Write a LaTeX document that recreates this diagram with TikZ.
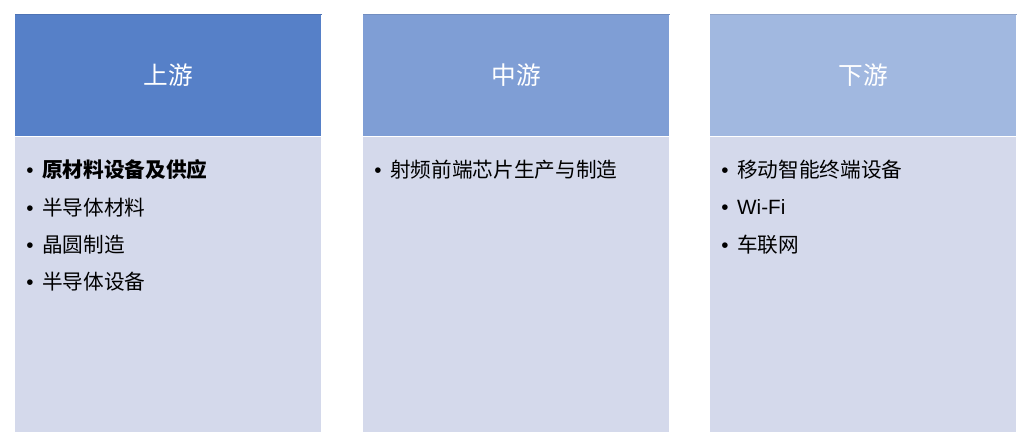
\documentclass[tikz,border=0pt]{standalone}
\usepackage{fontspec}
\setmainfont{Liberation Sans}
\newfontfamily\cjk{Noto Sans CJK SC}
\usetikzlibrary{positioning,calc}
\definecolor{headA}{RGB}{86,128,200}
\definecolor{headB}{RGB}{127,158,213}
\definecolor{headC}{RGB}{161,184,224}
\definecolor{bodyfill}{RGB}{212,217,235}
\tikzset{
  headbox/.style={rectangle,inner sep=0pt,minimum width=229.5pt,minimum height=91.5pt,
    text=white,font=\cjk\fontsize{18.5}{22}\selectfont},
  bodybox/.style={rectangle,fill=bodyfill,inner sep=0pt,minimum width=229.5pt,minimum height=221.25pt},
  item/.style={anchor=west,inner sep=0pt,font=\cjk\fontsize{15.5}{18}\selectfont},
}
\newcommand{\bul}{{\fontspec{Liberation Sans}\textbullet}\hspace{6.5pt}}
\begin{document}
\begin{tikzpicture}[x=0.75pt,y=-0.75pt]
    \useasboundingbox (0,0) rectangle (1029,444);
    % three columns
    \node[headbox,fill=headA,anchor=north west](up)at(15,14){上游};
    \node[headbox,fill=headB,anchor=north west](mid)at(363,14){中游};
    \node[headbox,fill=headC,anchor=north west](down)at(710,14){下游};
    \node[bodybox,anchor=north](upbody)at(up.south){};
    \node[bodybox,anchor=north](midbody)at(mid.south){};
    \node[bodybox,anchor=north](downbody)at(down.south){};
    \draw[headA!90!black,line width=0.5pt](up.north west)--(up.north east);
    \draw[headB!90!black,line width=0.5pt](mid.north west)--(mid.north east);
    \draw[headC!90!black,line width=0.5pt](down.north west)--(down.north east);
    % items
    \foreach \t [count=\i] in {{\bfseries 原材料设备及供应},半导体材料,晶圆制造,半导体设备}
      \node[item](up\i)at($(upbody.north west)+(11,-4+37.3*\i)$){\bul\t};
    \node[item](mid1)at($(midbody.north west)+(11,33.3)$){\bul 射频前端芯片生产与制造};
    \foreach \t [count=\i] in {移动智能终端设备,{\fontspec{Liberation Sans}Wi-Fi},车联网}
      \node[item](down\i)at($(downbody.north west)+(11,-4+37.3*\i)$){\bul\t};
  \end{tikzpicture}
\end{document}
